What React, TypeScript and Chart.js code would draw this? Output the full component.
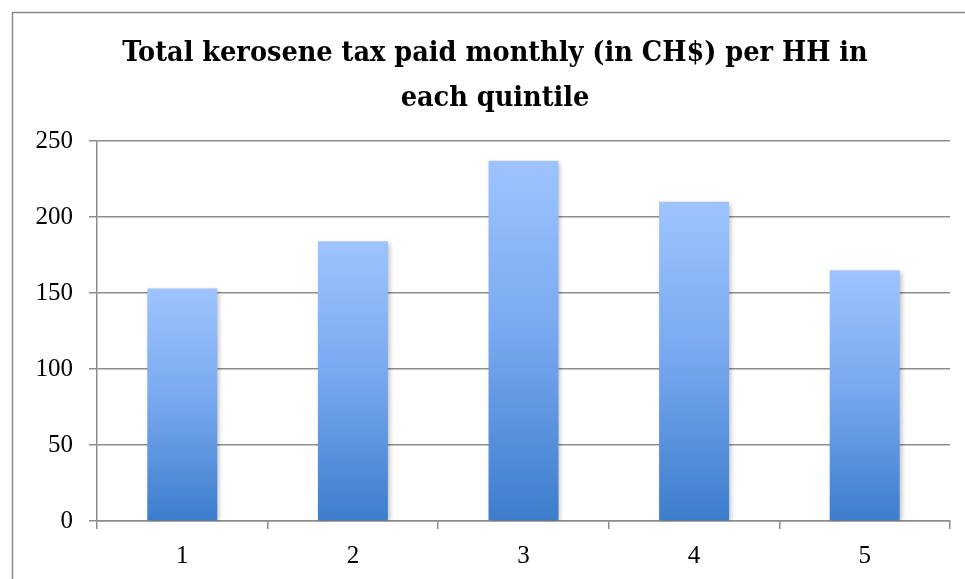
import React, { useEffect, useRef } from "react";
import { Chart, registerables } from "chart.js";

Chart.register(...registerables);

const categories = ["1", "2", "3", "4", "5"];
const taxValues = [153, 184, 237, 210, 165];
const titleLines = ["Total kerosene tax paid monthly (in CH$) per HH in", "each quintile"];
const yMin = 0;
const yMax = 250;
const yStep = 50;

const GRID = "#8c8c8c";
const CANVAS_W = 990;
const CANVAS_H = 579;

const framePlugin = {
  id: "frame",
  beforeDraw(chart: any) {
    const ctx = chart.ctx;
    ctx.save();
    ctx.fillStyle = "#ffffff";
    ctx.fillRect(0, 0, chart.width, chart.height);
    ctx.strokeStyle = "#8a8a8a";
    ctx.lineWidth = 1.5;
    ctx.beginPath();
    ctx.moveTo(12.5, chart.height);
    ctx.lineTo(12.5, 12.5);
    ctx.lineTo(chart.width, 12.5);
    ctx.stroke();
    ctx.restore();
  },
};

const shadowPlugin = {
  id: "barShadow",
  beforeDatasetsDraw(chart: any) {
    const ctx = chart.ctx;
    ctx.save();
    ctx.shadowColor = "rgba(0,0,0,0.28)";
    ctx.shadowBlur = 5;
    ctx.shadowOffsetX = 2;
    ctx.shadowOffsetY = 2;
  },
  afterDatasetsDraw(chart: any) {
    chart.ctx.restore();
  },
};

export default function App() {
  const ref = useRef<HTMLCanvasElement | null>(null);

  useEffect(() => {
    if (!ref.current) return;
    const chart = new Chart(ref.current, {
      type: "bar",
      data: {
        labels: categories,
        datasets: [
          {
            label: "Tax",
            data: taxValues,
            yAxisID: "y",
            backgroundColor: (context: any) => {
              const ch = context.chart;
              const y = ch.scales?.y;
              if (!ch.chartArea || !y || context.raw == null) return "#6a9ee6";
              const top = y.getPixelForValue(context.raw);
              const bottom = y.getPixelForValue(0);
              if (!isFinite(top) || !isFinite(bottom) || top === bottom) return "#6a9ee6";
              const g = ch.ctx.createLinearGradient(0, top, 0, bottom);
              g.addColorStop(0, "#9ec4ff");
              g.addColorStop(0.5, "#76a7ee");
              g.addColorStop(1, "#3c7dcc");
              return g;
            },
            borderWidth: 0,
            categoryPercentage: 1,
            barPercentage: 0.41,
          },
        ],
      },
      options: {
        animation: false,
        responsive: false,
        maintainAspectRatio: false,
        layout: { padding: { left: 0, right: 0, top: 0, bottom: 0 } },
        plugins: {
          legend: { display: false },
          tooltip: { enabled: false },
          title: {
            display: true,
            text: titleLines,
            color: "#000000",
            font: { family: "'DejaVu Serif Condensed', 'DejaVu Serif', serif", size: 28.5, weight: "bold", lineHeight: 1.55 },
            padding: { top: 32, bottom: 20.6 },
          },
        },
        scales: {
          x: {
            grid: {
              drawOnChartArea: false,
              drawTicks: true,
              tickLength: 8,
              color: GRID,
              lineWidth: 1.5,
              offset: true,
            },
            border: { display: true, color: GRID, width: 1.5 },
            ticks: {
              color: "#000000",
              font: { family: "'Liberation Serif', serif", size: 25 },
              padding: 12,
            },
            afterFit: (scale: any) => {
              scale.height = 58;
            },
          },
          y: {
            position: "left",
            min: yMin,
            max: yMax,
            ticks: {
              stepSize: yStep,
              color: "#000000",
              font: { family: "'Liberation Serif', serif", size: 25 },
              padding: 16,
            },
            grid: {
              color: GRID,
              lineWidth: 1.5,
              tickLength: 8,
            },
            border: { display: true, color: GRID, width: 1.5 },
            afterFit: (scale: any) => {
              scale.width = 97;
            },
          },
          spacer: {
            type: "linear",
            position: "right",
            display: true,
            grid: { display: false, drawTicks: false },
            border: { display: false },
            ticks: { display: false },
            afterFit: (scale: any) => {
              scale.width = 40;
            },
          },
        },
      },
      plugins: [framePlugin, shadowPlugin],
    });
    return () => chart.destroy();
  }, []);

  return (
    <div style={{ position: "absolute", left: 0, top: 0, width: 965, height: 579, overflow: "hidden", background: "#fff" }}>
      <canvas ref={ref} width={CANVAS_W} height={CANVAS_H} style={{ display: "block" }} />
    </div>
  );
}
